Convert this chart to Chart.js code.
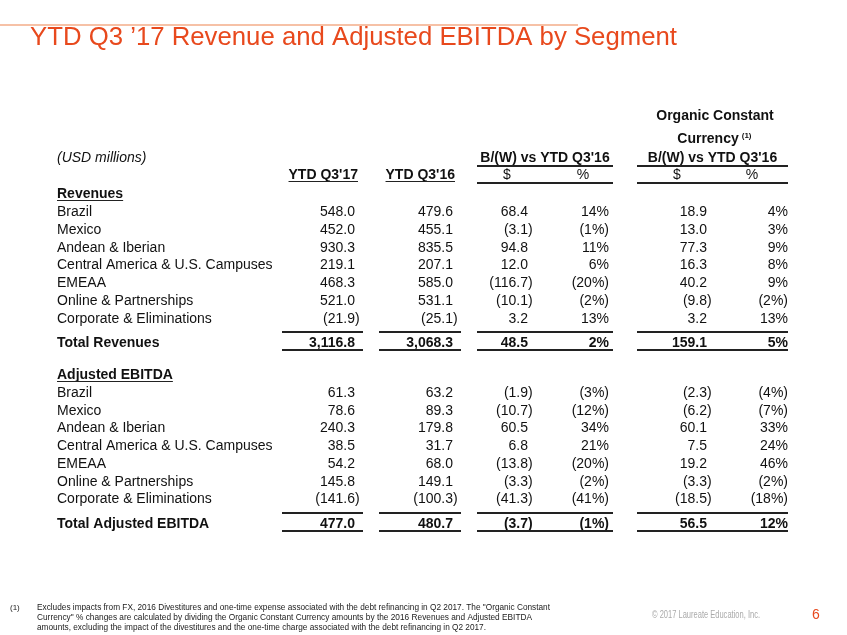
<!DOCTYPE html>
<html><head><meta charset="utf-8">
<script src="https://cdn.jsdelivr.net/npm/chart.js@4.4.0/dist/chart.umd.min.js"></script>
<style>html,body{margin:0;padding:0;background:#fff;}canvas{display:block;}</style>
</head><body>
<canvas id="c" width="847" height="635"></canvas>
<script>
// ---------- DATA ----------
const titleText = 'YTD Q3 \u201917 Revenue and Adjusted EBITDA by Segment';
const unitsLabel = '(USD millions)';
const groupHeader = "B/(W) vs YTD Q3'16";
const occHeader = ['Organic Constant', 'Currency'];
const occNote = '(1)';
const columnHeaders = ["YTD Q3'17", "YTD Q3'16", '$', '%', '$', '%'];
const sectionTitles = ['Revenues', 'Adjusted EBITDA'];
const totalLabels = ['Total Revenues', 'Total Adjusted EBITDA'];
const segments = ['Brazil', 'Mexico', 'Andean & Iberian', 'Central America & U.S. Campuses', 'EMEAA', 'Online & Partnerships', 'Corporate & Eliminations'];

const revYTD17     = [548.0, 452.0, 930.3, 219.1, 468.3, 521.0, -21.9];
const revYTD16     = [479.6, 455.1, 835.5, 207.1, 585.0, 531.1, -25.1];
const revBWDollar  = [68.4, -3.1, 94.8, 12.0, -116.7, -10.1, 3.2];
const revBWPct     = [14, -1, 11, 6, -20, -2, 13];
const revOCCDollar = [18.9, 13.0, 77.3, 16.3, 40.2, -9.8, 3.2];
const revOCCPct    = [4, 3, 9, 8, 9, -2, 13];
const revTotals    = [3116.8, 3068.3, 48.5, 2, 159.1, 5];

const ebitdaYTD17     = [61.3, 78.6, 240.3, 38.5, 54.2, 145.8, -141.6];
const ebitdaYTD16     = [63.2, 89.3, 179.8, 31.7, 68.0, 149.1, -100.3];
const ebitdaBWDollar  = [-1.9, -10.7, 60.5, 6.8, -13.8, -3.3, -41.3];
const ebitdaBWPct     = [-3, -12, 34, 21, -20, -2, -41];
const ebitdaOCCDollar = [-2.3, -6.2, 60.1, 7.5, 19.2, -3.3, -18.5];
const ebitdaOCCPct    = [-4, -7, 33, 24, 46, -2, -18];
const ebitdaTotals    = [477.0, 480.7, -3.7, -1, 56.5, 12];

const footnoteMark = '(1)';
const footnoteLines = [
  'Excludes impacts from FX, 2016 Divestitures and one-time expense associated with the debt refinancing in Q2 2017. The "Organic Constant',
  'Currency" % changes are calculated by dividing the Organic Constant Currency amounts by the 2016 Revenues and Adjusted EBITDA',
  'amounts, excluding the impact of the divestitures and the one-time charge associated with the debt refinancing in Q2 2017.'
];
const copyrightText = '\u00A9 2017 Laureate Education, Inc.';
const pageNumber = '6';

// ---------- LAYOUT (positions / styles) ----------
const FONT = '"Liberation Sans", Arial, sans-serif';
const NARROW = '"Liberation Sans Narrow", "Arial Narrow", "Liberation Sans", sans-serif';
const layout = {
  labelX: 57,
  colRight: [355, 453, 528, 609, 707, 788],
  colKind: ['num', 'num', 'num', 'pct', 'num', 'pct'],
  hdrCenter: [null, null, 507, 583, 677, 752],
  hdrRight: [358, 455],
  groupLines: [[282, 363], [379, 461], [477, 613], [637, 788]],
  sections: [
    { head: 193, first: 211.3, pitch: 17.7, total: 342 },
    { head: 374, first: 392, pitch: 17.72, total: 523 }
  ]
};

const tablePlugin = {
  id: 'tablePlugin',
  afterDraw(chart) {
    const ctx = chart.ctx, xs = chart.scales.x, ys = chart.scales.y;
    const X = v => xs.getPixelForValue(v), Y = v => ys.getPixelForValue(v);
    const txt = (s, x, yc, font, color, align, maxW) => {
      ctx.font = font; ctx.fillStyle = color; ctx.textAlign = align || 'left';
      ctx.textBaseline = 'alphabetic';
      if (maxW) ctx.fillText(s, X(x), Y(yc), maxW); else ctx.fillText(s, X(x), Y(yc));
    };
    const hline = (x1, x2, y, w, color) => {
      ctx.beginPath(); ctx.strokeStyle = color || '#222'; ctx.lineWidth = w || 1;
      ctx.moveTo(X(x1), Y(y)); ctx.lineTo(X(x2), Y(y)); ctx.stroke();
    };
    const fmtNum = v => {
      const s = Math.abs(v).toLocaleString('en-US', { minimumFractionDigits: 1, maximumFractionDigits: 1 });
      return v < 0 ? '(' + s + ')' : s;
    };
    const fmtPct = v => v < 0 ? '(' + Math.abs(v) + '%)' : v + '%';
    const REG = '14px ' + FONT, BOLD = 'bold 14px ' + FONT;
    const off = 5; // baseline offset from visual centre

    ctx.save();
    // top rule & title
    hline(0, 578, 25, 2, '#F6C1A6');
    txt(titleText, 30, 45, '26px ' + FONT, '#E8491D', 'left', 647);

    // header block
    txt(occHeader[0], 715, 115 + off, BOLD, '#111', 'center');
    ctx.font = BOLD;
    const cw = ctx.measureText(occHeader[1]).width;
    txt(occHeader[1], 715 - 7, 138 + off, BOLD, '#111', 'center');
    txt(occNote, 715 - 7 + cw / 2 + 3, 133 + off, 'bold 8px ' + FONT, '#111', 'left');
    txt(unitsLabel, layout.labelX, 157 + off, 'italic 14px ' + FONT, '#111');
    txt(groupHeader, 545, 157 + off, BOLD, '#111', 'center');
    txt(groupHeader, 712.5, 157 + off, BOLD, '#111', 'center');
    hline(477, 613, 166, 2);
    hline(637, 788, 166, 2);
    for (let i = 0; i < 2; i++) {
      txt(columnHeaders[i], layout.hdrRight[i], 174 + off, BOLD, '#111', 'right');
      ctx.font = BOLD;
      const w = ctx.measureText(columnHeaders[i]).width;
      hline(layout.hdrRight[i] - w, layout.hdrRight[i], 181.5, 1);
    }
    for (let i = 2; i < 6; i++) txt(columnHeaders[i], layout.hdrCenter[i], 174 + off, REG, '#111', 'center');
    hline(477, 613, 183, 2);
    hline(637, 788, 183, 2);

    // sections
    const sets = [
      [revYTD17, revYTD16, revBWDollar, revBWPct, revOCCDollar, revOCCPct, revTotals],
      [ebitdaYTD17, ebitdaYTD16, ebitdaBWDollar, ebitdaBWPct, ebitdaOCCDollar, ebitdaOCCPct, ebitdaTotals]
    ];
    const cell = (v, c, yc, font) => {
      ctx.font = font;
      let s, xr = layout.colRight[c];
      if (layout.colKind[c] === 'pct') s = fmtPct(v);
      else { s = fmtNum(v); if (v < 0) xr += ctx.measureText(')').width; }
      txt(s, xr, yc + off, font, '#111', 'right');
    };
    sets.forEach((cols, si) => {
      const L = layout.sections[si];
      txt(sectionTitles[si], layout.labelX, L.head + off, BOLD, '#111');
      ctx.font = BOLD;
      const w = ctx.measureText(sectionTitles[si]).width;
      hline(layout.labelX, layout.labelX + w, L.head + 7.5, 1);
      segments.forEach((seg, r) => {
        const yc = L.first + r * L.pitch;
        txt(seg, layout.labelX, yc + off, REG, '#111');
        for (let c = 0; c < 6; c++) cell(cols[c][r], c, yc, REG);
      });
      txt(totalLabels[si], layout.labelX, L.total + off, BOLD, '#111');
      for (let c = 0; c < 6; c++) cell(cols[6][c], c, L.total, BOLD);
      layout.groupLines.forEach(g => { hline(g[0], g[1], L.total - 10, 2); hline(g[0], g[1], L.total + 8, 2); });
    });

    // footer
    txt(footnoteMark, 10, 610, '8px ' + FONT, '#222');
    footnoteLines.forEach((l, i) => txt(l, 37, 610 + i * 10, '9px ' + NARROW, '#222', 'left', [513, 495, 449][i]));
    txt(copyrightText, 652, 618, '11.5px ' + NARROW, '#AAAAAA', 'left', 108);
    txt(pageNumber, 812, 619, '14px ' + FONT, '#E8491D');
    ctx.restore();
  }
};

new Chart(document.getElementById('c'), {
  type: 'scatter',
  data: { datasets: [{ data: [], pointRadius: 0 }] },
  options: {
    responsive: false, animation: false, devicePixelRatio: 1,
    layout: { padding: 0 },
    scales: {
      x: { type: 'linear', min: 0, max: 847, display: false },
      y: { type: 'linear', min: 0, max: 635, reverse: true, display: false }
    },
    plugins: { legend: { display: false }, tooltip: { enabled: false } }
  },
  plugins: [tablePlugin]
});
</script>
</body></html>
